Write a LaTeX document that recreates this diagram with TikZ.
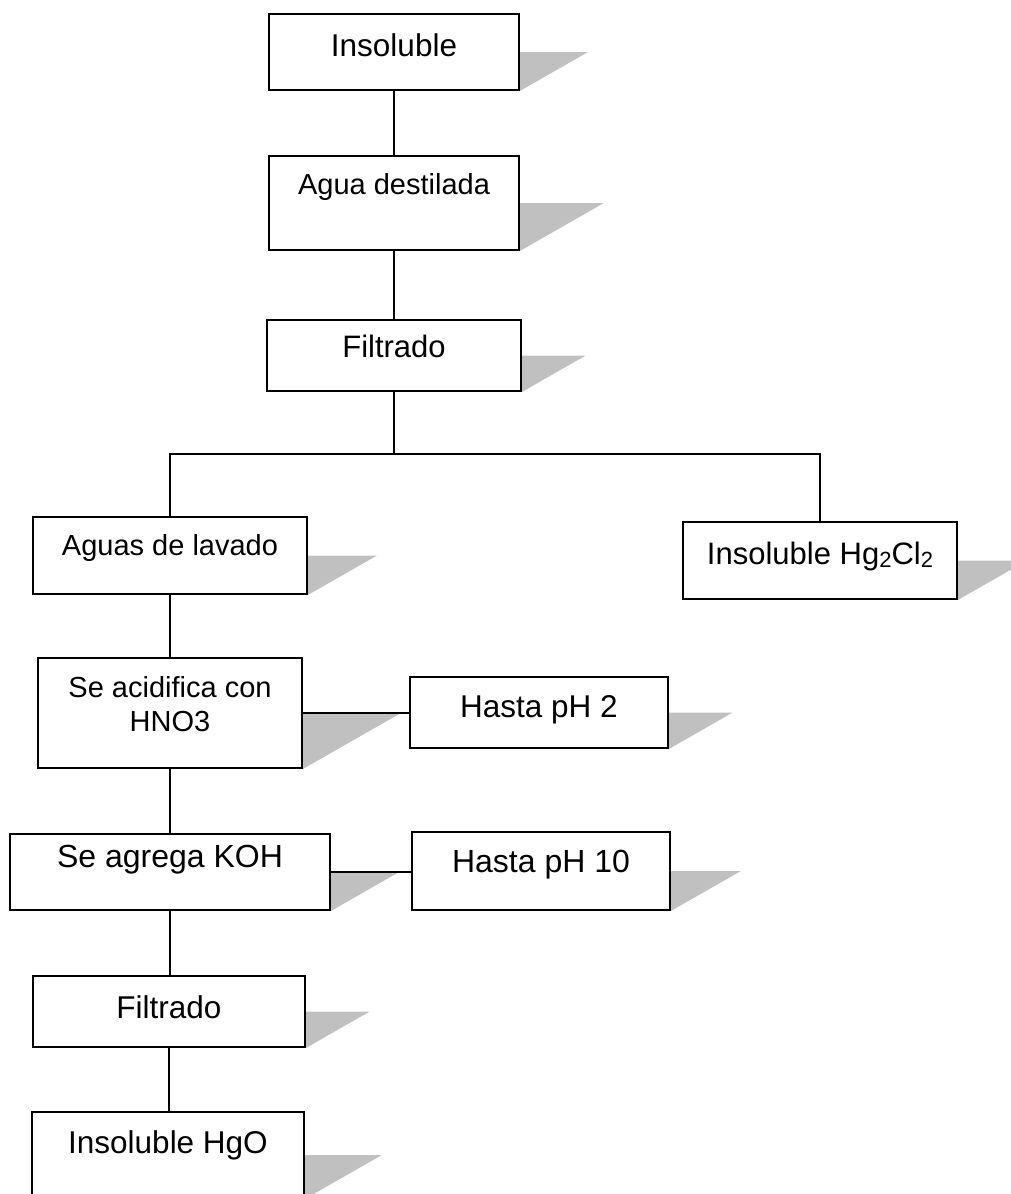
\documentclass[tikz,border=0pt]{standalone}
\usepackage{fontspec}
\setmainfont{Liberation Sans}
\usetikzlibrary{calc,fit,backgrounds}
\definecolor{shadowgray}{RGB}{192,192,192}

% font size helper and chemical subscript
\newcommand\fsz[1]{\fontsize{#1}{34}\selectfont}
\newcommand\chemsub[1]{\raisebox{-3pt}{\fontsize{22}{22}\selectfont #1}}

\tikzset{
  procbox/.style={draw, line width=1.9pt, fill=white, inner sep=0pt},
  lbl/.style={anchor=base, inner sep=0pt, align=center},
  link/.style={line width=1.9pt},
}

% slanted grey shadow on the right side of a box
\newcommand\dropshadow[1]{%
  \fill[shadowgray] let \p1=(#1.east), \p2=(#1.south east) in
    (\p1) -- ({\x1+1.75*(\y1-\y2)},\y1) -- (\p2) -- cycle;}

\begin{document}
\begin{tikzpicture}[x=1pt,y=-1pt]
\useasboundingbox (0,0) rectangle (1010,1194);
\clip (0,0) rectangle (1010,1194);

% boxes
\node[procbox, fit={(269,14) (519,90)}]    (n1)  {};
\node[procbox, fit={(269,156) (519,250)}]  (n2)  {};
\node[procbox, fit={(267,320) (521,391)}]  (n3)  {};
\node[procbox, fit={(33,517) (307,594)}]   (n4)  {};
\node[procbox, fit={(683,522) (957,599)}]  (n5)  {};
\node[procbox, fit={(38,658) (302,768)}]   (n6)  {};
\node[procbox, fit={(410,677) (668,748)}]  (n7)  {};
\node[procbox, fit={(10,834) (330,910)}]   (n8)  {};
\node[procbox, fit={(412,832) (670,910)}]  (n9)  {};
\node[procbox, fit={(33,976) (305,1047)}]  (n10) {};
\node[procbox, fit={(32,1112) (304,1198)}] (n11) {};

% labels (multi-line labels sit on the baseline of their last line)
\node[lbl, font=\fsz{31.5}] (t1)  at (394,56.5) {Insoluble};
\node[lbl, font=\fsz{29}]   (t2)  at (394,194)  {Agua destilada};
\node[lbl, font=\fsz{31}]   (t3)  at (394,357)  {Filtrado};
\node[lbl, font=\fsz{29}]   (t4)  at (170,555)  {Aguas de lavado};
\node[lbl, font=\fsz{31}]   (t5)  at (820,564)  {Insoluble Hg\chemsub{2}Cl\chemsub{2}};
\node[lbl, font=\fsz{29}]   (t6)  at (170,731)  {Se acidifica con\\HNO3};
\node[lbl, font=\fsz{31.5}] (t7)  at (539,717)  {Hasta pH 2};
\node[lbl, font=\fsz{32}]   (t8)  at (170,867)  {Se agrega KOH};
\node[lbl, font=\fsz{32}]   (t9)  at (541,872)  {Hasta pH 10};
\node[lbl, font=\fsz{31.5}] (t10) at (169,1018) {Filtrado};
\node[lbl, font=\fsz{31.5}] (t11) at (168,1153) {Insoluble HgO};

% shadows behind everything
\begin{scope}[on background layer]
  \foreach \b in {n1,n2,n3,n4,n5,n6,n7,n8,n9,n10,n11} {\dropshadow{\b}}
\end{scope}

% connectors
\coordinate (split) at (394,454);
\draw[link] (n1.south) -- (n2.north);
\draw[link] (n2.south) -- (n3.north);
\draw[link] (n3.south) -- (n3.south |- split);
\draw[link] (n4.north) |- (split) -| (n5.north);
\draw[link] (n4.south) -- (n4.south |- n6.north);
\draw[link] (n6.east) -- (n6.east -| n7.west);
\draw[link] (n6.south) -- (n6.south |- n8.north);
\draw[link] (n8.east) -- (n8.east -| n9.west);
\draw[link] (n8.south) -- (n8.south |- n10.north);
\draw[link] (n10.south) -- (n10.south |- n11.north);
\end{tikzpicture}
\end{document}
